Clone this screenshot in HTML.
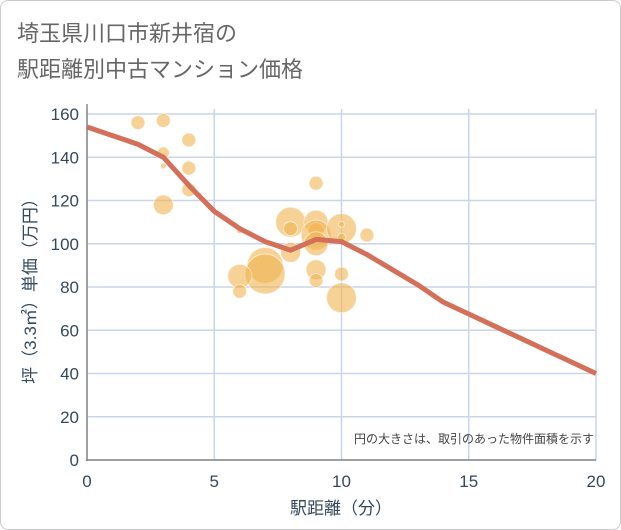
<!DOCTYPE html>
<html><head><meta charset="utf-8"><style>
body{margin:0;background:#fff;font-family:"Liberation Sans","Noto Sans CJK JP",sans-serif;}
.card{position:absolute;left:0;top:0;width:619px;height:528px;border:1px solid #ccc;border-radius:8px;background:#fff;}
</style></head><body>
<div class="card"></div>
<svg id="c" width="621" height="530" style="position:absolute;left:0;top:0">
<text x="17" y="41" font-size="22" fill="#666" font-family="Liberation Sans,Noto Sans CJK JP,sans-serif">埼玉県川口市新井宿の</text>
<text x="17" y="77" font-size="22" fill="#666" font-family="Liberation Sans,Noto Sans CJK JP,sans-serif">駅距離別中古マンション価格</text>
<g id="grid"></g><g id="bub"></g><g id="ln"></g><g id="ax"></g>
<text x="594" y="443" font-size="12" fill="#444" text-anchor="end" font-family="Liberation Sans,Noto Sans CJK JP,sans-serif">円の大きさは、取引のあった物件面積を示す</text>
<text x="341" y="514" font-size="17" fill="#34495e" text-anchor="middle" font-family="Liberation Sans,Noto Sans CJK JP,sans-serif">駅距離（分）</text>
<text transform="translate(36,287) rotate(-90)" font-size="17" fill="#34495e" text-anchor="middle" font-family="Liberation Sans,Noto Sans CJK JP,sans-serif">坪（3.3㎡）単価（万円）</text>
</svg>
<script>
const xTicks=[0,5,10,15,20];
const yTicks=[0,20,40,60,80,100,120,140,160];
const bubX=[2,3,4,3,3,4,4,3,8,8,6,9,9,9,9,8,10,10,10,11,9,7,7,6,6,9,9,10,10];
const bubY=[156,157,148,142,136,135,125,118,110,107,106,110,106,104,100,96,107,103,109,104,128,90,86,85,78,88,83,86,75];
const bubR=[7,7,7,6,3,7,7,10,15,7,3,12,8,15,12,10,15,4,3,7,7,18,20,12,7,10,7,7,15];
const lineX=[0,2,3,4,5,6,7,8,9,10,11,12,13,14,15,16,17,18,19,20];
const lineY=[154,146,140,127,115,107,101,97,102,101,95,88,81,73,67.5,62,56.5,51,45.5,40];
const X=v=>87+v*(596-87)/20, Y=v=>460-v*(460-114)/160;
const NS='http://www.w3.org/2000/svg';
function mk(t,a,p){const e=document.createElementNS(NS,t);for(const k in a)e.setAttribute(k,a[k]);p.appendChild(e);return e;}
const g=document.getElementById('grid'),ax=document.getElementById('ax');
xTicks.forEach(t=>{const l=mk('line',{x1:X(t),x2:X(t),y1:114-5,y2:460,stroke:'#c8d6e5','stroke-width':1.5},g);


const s=mk('text',{x:X(t),y:487,'font-size':17,fill:'#34495e','text-anchor':'middle'},ax);s.textContent=t;

});
yTicks.forEach(t=>{const l=mk('line',{x1:87,x2:596,y1:Y(t),y2:Y(t),stroke:'#c8d6e5','stroke-width':1.5},g);


const s=mk('text',{x:79,y:Y(t)+6,'font-size':17,fill:'#34495e','text-anchor':'end'},ax);s.textContent=t;

});
const a1=mk('line',{x1:87,x2:87,y1:104,y2:461,stroke:'#888','stroke-width':1.5},ax);


const a2=mk('line',{x1:86,x2:596,y1:460,y2:460,stroke:'#888','stroke-width':1.5},ax);


const b=document.getElementById('bub');
bubX.forEach((x,i)=>{const c=mk('circle',{cx:X(x),cy:Y(bubY[i]),r:bubR[i],fill:'rgba(240,180,80,0.6)',stroke:'rgba(255,255,255,0.6)','stroke-width':1},b);

});
const p=mk('polyline',{points:lineX.map((x,i)=>X(x)+','+Y(lineY[i])).join(' '),fill:'none',stroke:'#d4705a','stroke-width':5,'stroke-linejoin':'round'},document.getElementById('ln'));


</script>
</body></html>
